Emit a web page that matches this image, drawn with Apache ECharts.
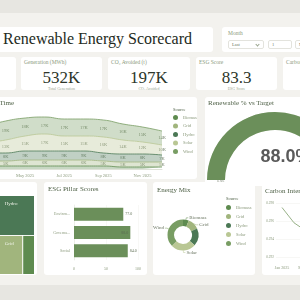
<!DOCTYPE html>
<html>
<head>
<meta charset="utf-8">
<title>Renewable Energy Scorecard</title>
<script src="https://cdn.jsdelivr.net/npm/echarts/dist/echarts.min.js"></script>
<style>
  body { margin: 0; width: 300px; height: 300px; overflow: hidden; position: relative; background: #f3f2ee; font-family: 'Liberation Serif', serif; }
  .band { position: absolute; left: 0; width: 300px; height: 13px; background: #e7e6e1; }
  .card { position: absolute; background: #fff; border-radius: 3px; overflow: hidden; }
  .txt { position: absolute; white-space: nowrap; line-height: 1; }
  .lbl { font-size: 5.5px; color: #8b9a7c; }
  .ttl { font-size: 7px; color: #4f6147; }
  .kpi { font-size: 17px; color: #2d362a; left: 0; right: 0; text-align: center; }
  .sub { font-size: 4px; color: #9aa58e; left: 0; right: 0; text-align: center; }
  .sel { position: absolute; top: 13px; height: 9px; border: 1px solid #e3e3dd; border-radius: 2px; box-sizing: border-box; font-size: 4.5px; color: #6c7763; line-height: 7px; padding-left: 3px; }
  .chev { position: absolute; right: 4px; top: 1.5px; width: 2px; height: 2px; border-right: 0.7px solid #9aa58e; border-bottom: 0.7px solid #9aa58e; transform: rotate(45deg); }
  .chart { position: absolute; left: 0; top: 0; }
</style>
</head>
<body>
<div class="band" style="top:0"></div>
<div class="band" style="top:285px; height:15px"></div>

<!-- header -->
<div class="card" style="left:-20px; top:27px; width:233px; height:25px">
  <div class="txt" style="left:23px; top:4px; font-size:16px; color:#232a21">Renewable Energy Scorecard</div>
</div>
<div class="card" style="left:222px; top:27px; width:90px; height:25px">
  <div class="txt lbl" style="left:6px; top:4px">Month</div>
  <div class="sel" style="left:6px; width:36px">Last<span class="chev"></span></div>
  <div class="sel" style="left:46px; width:24px">1</div>
  <div class="sel" style="left:73px; width:30px">Months</div>
</div>

<!-- kpis -->
<div class="card" style="left:-70px; top:57px; width:86px; height:33px"></div>
<div class="card" style="left:21px; top:57px; width:81px; height:33px">
  <div class="txt lbl" style="left:3px; top:3px">Generation (MWh)</div>
  <div class="txt kpi" style="top:12px">532K</div>
  <div class="txt sub" style="top:30px">Total Generation</div>
</div>
<div class="card" style="left:108px; top:57px; width:82px; height:33px">
  <div class="txt lbl" style="left:3px; top:3px">CO₂ Avoided (t)</div>
  <div class="txt kpi" style="top:12px">197K</div>
  <div class="txt sub" style="top:30px">CO₂ Avoided</div>
</div>
<div class="card" style="left:196px; top:57px; width:81px; height:33px">
  <div class="txt lbl" style="left:3px; top:3px">ESG Score</div>
  <div class="txt kpi" style="top:12px">83.3</div>
  <div class="txt sub" style="top:30px">ESG Score</div>
</div>
<div class="card" style="left:283px; top:57px; width:81px; height:33px">
  <div class="txt lbl" style="left:3px; top:3px">Carbon Intensity</div>
</div>

<!-- row 2 -->
<div class="card" style="left:-90px; top:97px; width:287px; height:82px">
  <div id="area" class="chart" style="width:287px; height:82px"></div>
  <div class="txt ttl" style="right:183px; top:3px">Generation Over Time</div>
  <div class="txt" style="left:263px; top:11px; font-size:4.5px; color:#4f6147">Source</div>
</div>
<div class="card" style="left:205px; top:97px; width:100px; height:89px">
  <div id="gauge" class="chart" style="width:100px; height:89px"></div>
  <div class="txt ttl" style="left:3px; top:3px">Renewable % vs Target</div>
  <div class="txt" style="left:12px; top:84px; font-size:3.5px; color:#6c7763">0.0%</div>
</div>

<!-- row 3 -->
<div class="card" style="left:-70px; top:182px; width:107px; height:93px">
  <div id="tree" class="chart" style="left:8px; top:14px; width:96px; height:78px"></div>
</div>
<div class="card" style="left:44px; top:182px; width:103px; height:93px">
  <div id="bars" class="chart" style="width:103px; height:93px"></div>
  <div class="txt ttl" style="left:4px; top:4px">ESG Pillar Scores</div>
</div>
<div class="card" style="left:153px; top:182px; width:102px; height:93px">
  <div id="mix" class="chart" style="left:-30px; width:132px; height:93px"></div>
  <div class="txt ttl" style="left:4px; top:5px">Energy Mix</div>
  <div class="txt" style="left:73px; top:15px; font-size:4.5px; color:#4f6147">Source</div>
</div>
<div class="card" style="left:262px; top:182px; width:50px; height:93px">
  <div id="carbon" class="chart" style="width:170px; height:93px"></div>
  <div class="txt ttl" style="left:3px; top:6px">Carbon Intensity</div>
</div>

<script type="text/javascript">
var months = ['Jan 2025', 'Feb 2025', 'Mar 2025', 'Apr 2025', 'May 2025', 'Jun 2025',
              'Jul 2025', 'Aug 2025', 'Sep 2025', 'Oct 2025', 'Nov 2025', 'Dec 2025'];
var sources = ['Biomass', 'Grid', 'Hydro', 'Solar', 'Wind'];

// monthly generation by source (K MWh)
var biomass = [3, 3, 3, 3, 3, 3, 3, 3, 3, 2, 2, 2];
var grid    = [5, 5, 5, 5, 6, 6, 6, 6, 5, 5, 5, 5];
var hydro   = [7, 7, 8, 8, 9, 9, 9, 9, 8, 8, 8, 7];
var solar   = [6, 8, 10, 13, 15, 17, 15, 15, 16, 14, 12, 10];
var wind    = [15, 16, 17, 19, 18, 17, 17, 17, 17, 16, 15, 14];

// yearly totals by source (K MWh)
var sourceTotals = [32, 64, 98, 140, 198];

var pillars = ['Environmental', 'Governance', 'Social'];
var pillarScores = [77, 88, 84];

var renewablePct = 88.0;

var carbonIntensity = [0.2975, 0.2958, 0.2949, 0.2940, 0.2936, 0.2931,
                       0.2929, 0.2927, 0.2926, 0.2925, 0.2924, 0.2923];

var palette = ['#5e8b4f', '#a1b57d', '#4b7855', '#b9c794', '#789d63'];
var mainGreen = '#6b8f5a';
var font = 'Liberation Serif';
var softText = '#8b9a7c';

// generation over time: stacked areas, value labels sit in the middle of each band
var areaChart = echarts.init(document.getElementById('area'));
var monthly = [biomass, grid, hydro, solar, wind];
var areaSeries = [];
var bandLabels = [];
var base = months.map(function () { return 0; });
for (var i = 0; i < sources.length; i++) {
    areaSeries.push({
        name: sources[i],
        type: 'line',
        stack: 'gen',
        smooth: true,
        symbol: 'none',
        lineStyle: { width: 0.8 },
        areaStyle: { opacity: 0.35 },
        data: monthly[i]
    });
    var mids = [];
    for (var m = 0; m < months.length; m++) {
        mids.push([m, base[m] + monthly[i][m] / 2, monthly[i][m]]);
        base[m] += monthly[i][m];
    }
    if (sources[i] !== 'Biomass') {
        bandLabels.push({
            type: 'scatter',
            symbolSize: 0,
            silent: true,
            label: {
                show: true, position: 'inside',
                fontSize: 4.5, fontFamily: font, color: '#5d6d52',
                formatter: function (p) { return p.value[2] + 'K'; }
            },
            data: mids
        });
    }
}
areaChart.setOption({
    animation: false,
    color: palette,
    grid: { left: 37, right: 35, top: 10, bottom: 10 },
    legend: {
        data: sources,
        orient: 'vertical',
        left: 263, top: 18,
        icon: 'circle',
        itemWidth: 5, itemHeight: 5, itemGap: 3.5,
        padding: 0,
        textStyle: { fontSize: 4.5, color: softText, fontFamily: font }
    },
    xAxis: {
        type: 'category',
        boundaryGap: false,
        data: months,
        axisTick: { show: false },
        axisLine: { lineStyle: { color: '#dfe2d8' } },
        axisLabel: { interval: 1, fontSize: 4.5, color: softText, margin: 4, fontFamily: font }
    },
    yAxis: { type: 'value', min: 0, max: 62, show: false },
    series: areaSeries.concat(bandLabels)
});

// renewable gauge
var gaugeChart = echarts.init(document.getElementById('gauge'));
gaugeChart.setOption({
    animation: false,
    series: [{
        type: 'gauge',
        center: [70, 83],
        radius: 68,
        startAngle: 180, endAngle: 0,
        min: 0, max: 100,
        progress: { show: true, width: 18, itemStyle: { color: mainGreen } },
        axisLine: { lineStyle: { width: 18, color: [[1, '#e6e9df']] } },
        pointer: { show: false },
        axisTick: { show: false },
        splitLine: { show: false },
        axisLabel: { show: false },
        title: { show: false },
        detail: {
            offsetCenter: [11, -23],
            fontSize: 18,
            color: '#5a5a5a',
            fontFamily: 'Liberation Sans',
            formatter: function (v) { return v.toFixed(1) + '%'; }
        },
        data: [{ value: renewablePct }]
    }]
});

// source treemap
var treeChart = echarts.init(document.getElementById('tree'));
var treeData = [];
for (var i = 0; i < sources.length; i++) {
    treeData.push({ name: sources[i], value: sourceTotals[i], itemStyle: { color: palette[i] } });
}
treeChart.setOption({
    animation: false,
    series: [{
        type: 'treemap',
        left: 0, right: 0, top: 0, bottom: 0,
        roam: false,
        nodeClick: false,
        breadcrumb: { show: false },
        itemStyle: { borderColor: '#fff', borderWidth: 0, gapWidth: 1 },
        label: {
            position: 'insideTopLeft',
            formatter: function (p) { return '{n|' + p.name + '}\n{v|' + p.value + 'K}'; },
            rich: {
                n: { fontSize: 5, color: '#eef2e6', fontFamily: font },
                v: { fontSize: 4, color: '#eef2e6', fontFamily: font, padding: [22, 0, 0, 0] }
            }
        },
        data: treeData
    }]
});

// ESG pillar bars
var barChart = echarts.init(document.getElementById('bars'));
barChart.setOption({
    animation: false,
    grid: { left: 30, right: 9, top: 23, bottom: 15 },
    xAxis: {
        type: 'value', min: 0, max: 100, interval: 50,
        axisLine: { show: false },
        splitLine: { lineStyle: { color: '#f0f0ec', width: 0.5 } },
        axisLabel: { fontSize: 4, color: softText, fontFamily: font, margin: 7 }
    },
    yAxis: {
        type: 'category', inverse: true, data: pillars,
        axisTick: { show: false },
        axisLine: { lineStyle: { color: '#dfe2d8', width: 0.5 } },
        axisLabel: { fontSize: 4, color: softText, fontFamily: font, width: 18, overflow: 'truncate', ellipsis: '...', margin: 4 }
    },
    series: [{
        type: 'bar',
        barWidth: 13,
        itemStyle: { color: mainGreen },
        label: {
            show: true, position: 'right', distance: 2,
            fontSize: 4, color: '#5d6d52', fontFamily: font,
            formatter: function (p) { return p.value.toFixed(1); }
        },
        data: pillarScores.map(function (v) {
            return v > 85 ? { value: v, label: { position: 'insideRight' } } : v;
        })
    }]
});

// energy mix donut
var mixChart = echarts.init(document.getElementById('mix'));
var mixData = [];
for (var i = 0; i < sources.length; i++) {
    mixData.push({ name: sources[i], value: sourceTotals[i] });
}
mixData[2].label = { show: false };
mixData[2].labelLine = { show: false };
mixChart.setOption({
    animation: false,
    color: palette,
    legend: {
        data: sources,
        orient: 'vertical',
        left: 103, top: 23,
        icon: 'circle',
        itemWidth: 5, itemHeight: 5, itemGap: 4,
        padding: 0,
        textStyle: { fontSize: 4.5, color: softText, fontFamily: font }
    },
    series: [{
        type: 'pie',
        center: [60, 53],
        radius: [9, 15.5],
        bleedMargin: 2,
        label: { fontSize: 5, color: '#6c7763', fontFamily: font, distanceToLabelLine: 1 },
        labelLine: { length: 2, length2: 2, lineStyle: { width: 0.5 } },
        data: mixData
    }]
});

// carbon intensity line
var carbonChart = echarts.init(document.getElementById('carbon'));
carbonChart.setOption({
    animation: false,
    grid: { left: 14, right: 12, top: 21, bottom: 18 },
    xAxis: {
        type: 'category', data: months,
        axisTick: { show: false },
        axisLine: { show: false },
        axisLabel: { fontSize: 4, color: softText, fontFamily: font, interval: 1, margin: 9 }
    },
    yAxis: {
        type: 'value', min: 0.292, max: 0.298, interval: 0.002,
        splitLine: { lineStyle: { color: '#eeeeea', width: 0.5 } },
        axisLabel: { fontSize: 3.5, color: softText, fontFamily: font, margin: 2,
                     formatter: function (v) { return v.toFixed(3); } }
    },
    series: [{
        type: 'line',
        symbol: 'none',
        lineStyle: { color: '#7d9d6a', width: 0.8 },
        label: { show: true, fontSize: 3.5, color: '#5d6d52', fontFamily: font,
                 formatter: function (p) { return p.value.toFixed(3); } },
        data: carbonIntensity
    }]
});
</script>
</body>
</html>
